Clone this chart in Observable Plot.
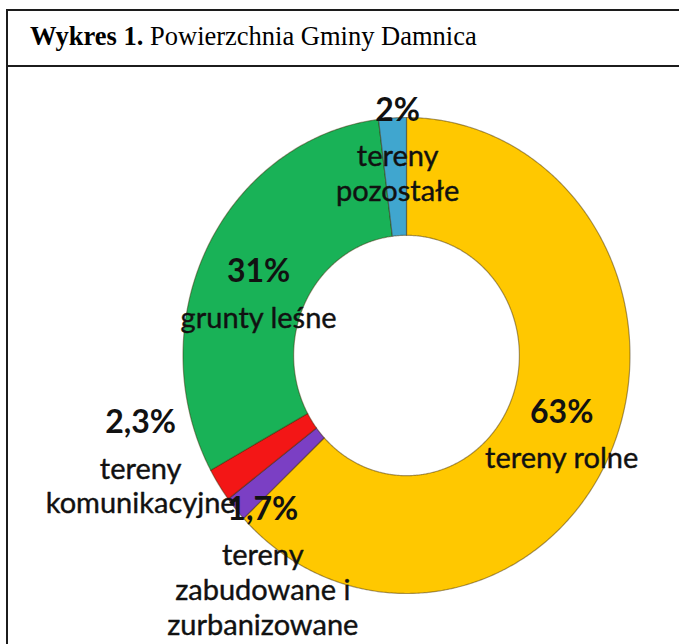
<!DOCTYPE html>
<html><head><meta charset="utf-8">
<script src="https://cdn.jsdelivr.net/npm/d3@7"></script>
<script src="https://cdn.jsdelivr.net/npm/@observablehq/plot@0.6"></script>
<style>
html,body{margin:0;padding:0;background:#fff;overflow:hidden;width:679px;height:644px;}
#frame{position:absolute;left:6px;top:9px;width:720px;height:700px;border:2px solid #1c1c1c;box-sizing:border-box;}
#title{position:absolute;left:0;top:0;right:0;height:54px;border-bottom:2px solid #1c1c1c;}
#titletext{position:absolute;left:22px;top:12px;font-family:"Liberation Serif","Times New Roman",serif;font-size:26.5px;line-height:26.5px;color:#000;white-space:nowrap;}
#chart{position:absolute;left:0;top:0;}
</style></head>
<body>
<div id="frame"><div id="title"><div id="titletext"><b>Wykres 1.</b> Powierzchnia Gminy Damnica</div></div></div>
<div id="chart"></div>
<script>
// ---- data ----
const categories = ["tereny rolne", "tereny zabudowane i zurbanizowane", "tereny komunikacyjne", "grunty leśne", "tereny pozostałe"];
const values = [63, 1.7, 2.3, 31, 2];
const percentLabels = ["63%", "1,7%", "2,3%", "31%", "2%"];
const nameLabels = ["tereny rolne", "tereny\nzabudowane i\nzurbanizowane", "tereny\nkomunikacyjne", "grunty leśne", "tereny\npozostałe"];

// ---- styling / layout ----
const colors = ["#FFC800", "#7B3FC4", "#F31616", "#19B257", "#40A6CF"];
const innerRadius = 0.505;
const labelRadius = [0.768, 0.977, 1.246, 0.711, 0.942];
const labelNudge = [1.9, -8.7, 15.6, -5.5, 1.2];

function polar(deg, r) { const t = deg * Math.PI / 180; return [Math.sin(t) * r, Math.cos(t) * r]; }

const total = d3.sum(values);
let acc = 0;
const ringPoints = [];
const labelAnchors = [];
categories.forEach((c, i) => {
  const a0 = acc / total * 360, a1 = (acc + values[i]) / total * 360;
  acc += values[i];
  const n = Math.max(2, Math.ceil((a1 - a0) / 0.5));
  const pts = [];
  for (let k = 0; k <= n; k++) pts.push(polar(a0 + (a1 - a0) * k / n, 1));
  for (let k = n; k >= 0; k--) pts.push(polar(a0 + (a1 - a0) * k / n, innerRadius));
  pts.push(pts[0]);
  pts.forEach(p => ringPoints.push({category: c, x: p[0], y: p[1]}));
  const [lx, ly] = polar((a0 + a1) / 2 + labelNudge[i], labelRadius[i]);
  labelAnchors.push({category: c, x: lx, y: ly, pct: percentLabels[i], name: nameLabels[i]});
});

const chart = Plot.plot({
  width: 679, height: 644, margin: 0,
  x: {domain: [-1, 1], range: [182.5, 629.5], axis: null},
  y: {domain: [-1, 1], range: [593, 117], axis: null},
  color: {domain: categories, range: colors},
  style: {background: "transparent", overflow: "visible"},
  marks: [
    Plot.line(ringPoints, {x: "x", y: "y", z: "category", fill: "category", stroke: "rgba(60,40,0,0.45)", strokeWidth: 1.2, curve: "linear"}),
    Plot.text(labelAnchors, {x: "x", y: "y", text: "pct", lineAnchor: "bottom", dy: -11, fontSize: 32, fontWeight: 700, fontFamily: "Lato", fill: "#111"}),
    Plot.text(labelAnchors, {x: "x", y: "y", text: "name", lineAnchor: "top", dy: 10, fontSize: 29, lineHeight: 1.2, fontFamily: "Lato", fill: "#111", stroke: "#111", strokeWidth: 0.4})
  ]
});
document.getElementById("chart").appendChild(chart);
</script>
</body></html>
